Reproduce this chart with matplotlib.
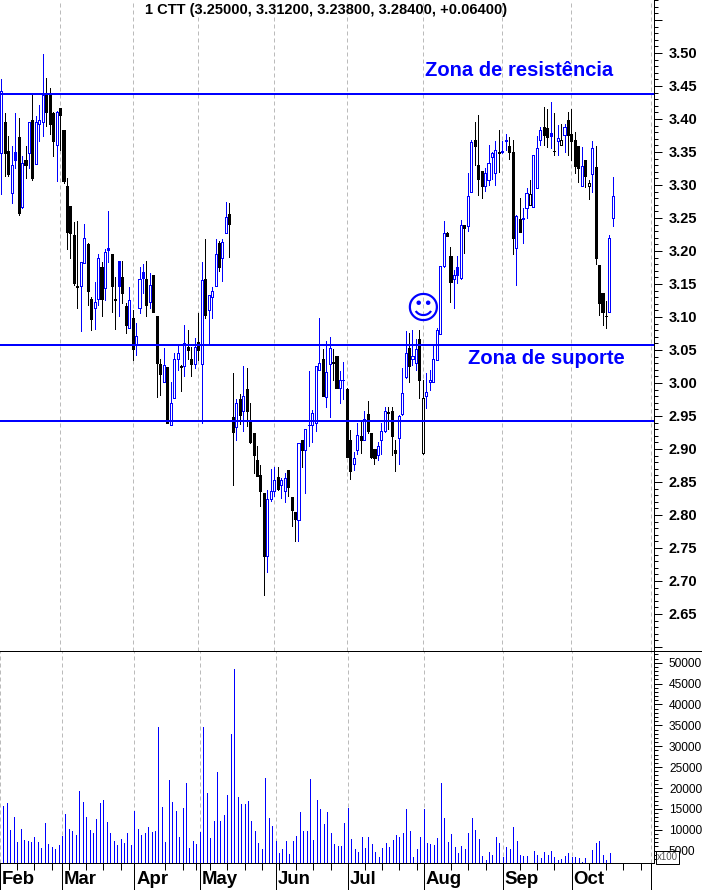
import numpy as np
import matplotlib
matplotlib.use('Agg')
import matplotlib.pyplot as plt
from matplotlib.lines import Line2D

plt.rcParams['font.family'] = ['Liberation Sans', 'DejaVu Sans']

# daily candles
open_ = [3.349,3.395,3.352,3.288,3.350,3.373,3.266,3.338,3.349,3.398,
         3.332,3.393,3.396,3.436,3.436,3.409,3.360,3.416,3.383,3.298,
         3.268,3.224,3.147,3.147,3.182,3.211,3.128,3.113,3.128,3.175,
         3.144,3.204,3.195,3.125,3.185,3.160,3.117,3.084,3.098,3.057,
         3.114,3.168,3.158,3.122,3.164,3.102,3.029,3.002,3.024,2.936,
         2.978,3.036,3.026,3.026,3.055,3.036,3.029,3.062,3.029,3.158,
         3.110,3.131,3.147,3.212,3.189,3.228,3.256,2.948,2.934,2.976,
         2.958,2.991,2.944,2.924,2.883,2.861,2.833,2.738,2.824,2.837,
         2.857,2.845,2.836,2.868,2.827,2.804,2.792,2.914,2.898,2.936,
         2.936,2.939,3.019,3.037,2.979,3.029,3.032,3.041,2.993,3.004,
         2.991,2.913,2.878,2.898,2.920,2.914,2.953,2.924,2.900,2.891,
         2.913,2.928,2.956,2.958,2.899,2.916,2.953,3.009,3.053,3.037,
         3.031,3.066,2.894,2.980,3.002,3.001,3.035,3.074,3.178,3.228,
         3.192,3.157,3.175,3.159,3.239,3.238,3.289,3.368,3.330,3.321,
         3.298,3.307,3.343,3.318,3.350,3.350,3.367,3.359,3.350,3.205,
         3.248,3.249,3.265,3.270,3.267,3.296,3.368,3.388,3.386,3.379,
         3.352,3.366,3.361,3.375,3.398,3.377,3.368,3.359,3.299,3.338,
         3.299,3.316,3.327,3.179,3.136,3.102,3.108,3.250]
high = [3.461,3.409,3.374,3.359,3.409,3.401,3.344,3.359,3.396,3.436,
        3.405,3.421,3.498,3.462,3.447,3.410,3.412,3.416,3.383,3.310,
        3.268,3.244,3.245,3.184,3.241,3.212,3.131,3.153,3.196,3.183,
        3.203,3.260,3.195,3.160,3.185,3.185,3.121,3.145,3.110,3.091,
        3.175,3.180,3.185,3.166,3.164,3.102,3.037,3.053,3.024,3.001,
        3.045,3.059,3.028,3.088,3.080,3.055,3.068,3.106,3.184,3.218,
        3.134,3.146,3.218,3.215,3.218,3.274,3.272,3.015,2.976,2.984,
        3.026,3.022,2.969,2.924,2.905,2.876,2.833,2.838,2.870,2.872,
        2.872,2.856,2.864,2.868,2.827,2.804,2.909,2.914,2.931,3.018,
        2.959,3.026,3.098,3.051,3.063,3.069,3.051,3.041,3.018,3.032,
        2.993,2.929,2.896,2.940,2.944,2.957,2.973,2.924,2.900,2.911,
        2.939,2.964,2.964,2.964,2.914,2.952,3.022,3.079,3.075,3.081,
        3.066,3.080,3.004,3.015,3.020,3.058,3.083,3.178,3.245,3.229,
        3.206,3.171,3.192,3.247,3.240,3.318,3.368,3.395,3.406,3.321,
        3.325,3.361,3.350,3.366,3.384,3.366,3.377,3.373,3.368,3.255,
        3.280,3.265,3.295,3.308,3.345,3.374,3.388,3.418,3.415,3.426,
        3.409,3.391,3.393,3.393,3.411,3.415,3.381,3.359,3.358,3.338,
        3.307,3.367,3.359,3.179,3.136,3.124,3.224,3.312]
low = [3.287,3.313,3.313,3.272,3.325,3.255,3.265,3.311,3.325,3.308,
       3.332,3.367,3.374,3.389,3.377,3.344,3.306,3.353,3.303,3.203,
       3.189,3.149,3.114,3.079,3.182,3.118,3.080,3.082,3.118,3.102,
       3.126,3.184,3.108,3.082,3.102,3.121,3.076,3.083,3.035,3.042,
       3.106,3.137,3.102,3.114,3.108,2.979,2.982,3.002,2.939,2.936,
       2.978,3.019,2.988,3.010,3.037,3.010,3.023,3.035,2.939,3.099,
       3.061,3.099,3.147,3.170,3.154,3.227,3.191,2.845,2.913,2.938,
       2.928,2.935,2.909,2.863,2.859,2.814,2.678,2.713,2.821,2.829,
       2.838,2.825,2.820,2.828,2.783,2.761,2.760,2.872,2.834,2.904,
       2.910,2.928,3.019,2.980,2.964,2.949,3.005,2.992,2.970,2.975,
       2.888,2.855,2.868,2.893,2.894,2.914,2.924,2.886,2.877,2.883,
       2.893,2.926,2.931,2.891,2.866,2.877,2.952,3.007,3.002,3.027,
       3.020,2.978,2.893,2.962,2.989,3.001,3.035,3.074,3.175,3.222,
       3.123,3.114,3.152,3.158,3.197,3.231,3.289,3.330,3.285,3.280,
       3.291,3.300,3.309,3.300,3.320,3.348,3.353,3.340,3.196,3.148,
       3.229,3.212,3.250,3.270,3.267,3.296,3.361,3.361,3.358,3.356,
       3.345,3.346,3.361,3.350,3.346,3.338,3.318,3.304,3.298,3.297,
       3.279,3.290,3.181,3.103,3.088,3.083,3.108,3.238]
close = [3.443,3.349,3.317,3.330,3.338,3.257,3.333,3.330,3.396,3.311,
         3.396,3.399,3.437,3.411,3.393,3.366,3.410,3.406,3.306,3.229,
         3.228,3.152,3.146,3.184,3.219,3.139,3.097,3.122,3.189,3.128,
         3.198,3.201,3.147,3.128,3.147,3.136,3.088,3.125,3.052,3.071,
         3.158,3.159,3.118,3.148,3.108,3.030,3.014,3.028,2.939,2.970,
         3.037,3.045,3.024,3.060,3.050,3.029,3.055,3.050,3.156,3.103,
         3.134,3.140,3.196,3.176,3.213,3.251,3.241,2.926,2.969,2.951,
         2.981,2.957,2.911,2.891,2.859,2.836,2.738,2.824,2.837,2.853,
         2.839,2.853,2.856,2.842,2.808,2.794,2.909,2.899,2.931,2.937,
         2.954,3.026,3.031,2.981,3.016,3.053,3.031,2.993,3.004,3.005,
         2.888,2.866,2.887,2.921,2.914,2.945,2.928,2.888,2.887,2.905,
         2.927,2.957,2.954,2.920,2.894,2.950,2.985,3.046,3.025,3.041,
         3.051,3.004,2.978,2.986,3.005,3.036,3.080,3.178,3.227,3.223,
         3.153,3.163,3.164,3.239,3.235,3.283,3.365,3.359,3.309,3.298,
         3.318,3.334,3.348,3.353,3.349,3.351,3.368,3.350,3.220,3.253,
         3.229,3.250,3.288,3.286,3.345,3.356,3.384,3.375,3.372,3.374,
         3.351,3.371,3.368,3.388,3.375,3.366,3.329,3.325,3.329,3.313,
         3.303,3.356,3.190,3.121,3.108,3.101,3.219,3.284]

# volume in hundreds, the sessions with no visible bar are 0
volume = [15740,16380,10010,13110,7140,10250,7620,7380,7140,8340,
          7140,5710,11680,6670,5950,5470,6430,8580,13830,10250,
          9770,8820,19320,16700,13110,10010,9290,12640,16460,17170,
          11920,9290,7380,6430,7860,6910,9290,6430,14550,10250,
          8820,9290,10730,9530,9770,34610,15500,7140,21950,16700,
          14550,8340,15260,21230,5710,7380,6670,9530,34610,18850,
          8100,12160,23860,12160,13590,18370,32930,48460,17890,16220,
          16220,16940,12160,9770,6910,5470,22430,12880,10970,7380,
          4520,5470,7380,4280,7380,8580,14310,9770,9770,22190,
          7620,17170,15020,11440,14310,9290,6670,6190,6190,11680,
          15260,7860,5470,4760,8340,5710,8340,6670,4760,3560,
          5710,6910,5950,7620,8820,8340,9290,15020,9770,3560,
          5470,8340,15020,6910,6670,6430,8100,21230,12880,7140,
          9050,5950,4520,6190,5470,9290,12880,10010,7860,3800,
          2850,4760,4040,8340,6910,3560,5950,5470,10730,7380,
          4040,3800,3800,0,4990,4040,3320,4760,4040,4990,
          3560,2850,3080,3800,4520,3560,3560,3320,2370,3320,
          0,5230,6910,7380,4040,2850,4520,0]

# session index of the first bar of each month, last one has no label
month_idx = [-1, 17, 38, 57, 79, 100, 122, 145, 165, 188]
month_labels = ['Feb', 'Mar', 'Apr', 'May', 'Jun', 'Jul', 'Aug', 'Sep', 'Oct']
week_idx = [4, 9, 14, 19, 24, 29, 34, 47, 52, 56, 60, 65, 70, 75, 80, 85, 90, 95,
            105, 110, 115, 120, 130, 135, 140, 150, 155, 160, 170, 175, 180, 185]

support_resistance = [3.4386, 3.0568, 2.9417]
price_ticks = [2.60, 2.65, 2.70, 2.75, 2.80, 2.85, 2.90, 2.95, 3.00, 3.05, 3.10,
               3.15, 3.20, 3.25, 3.30, 3.35, 3.40, 3.45, 3.50, 3.55]
price_labels = ['', '2.65', '2.70', '2.75', '2.80', '2.85', '2.90', '2.95', '3.00',
                '3.05', '3.10', '3.15', '3.20', '3.25', '3.30', '3.35', '3.40',
                '3.45', '3.50', '']
volume_ticks = [5000, 10000, 15000, 20000, 25000, 30000, 35000, 40000, 45000, 50000]

BLUE = '#0000ff'
W, H = 702.0, 890.0
PX = 72.0 / 100.0  # one pixel in points

open_ = np.array(open_)
high = np.array(high)
low = np.array(low)
close = np.array(close)
volume = np.array(volume)
x = np.arange(len(close))

# blue when close is above the previous close, hollow when close is above open
prev = np.r_[-np.inf, close[:-1]]
colors = np.where(close >= prev, BLUE, 'black')
hollow = close >= open_

fig = plt.figure(figsize=(7.02, 8.90), dpi=100, facecolor='white')
ax = fig.add_axes([0, 1 - 651 / H, 654 / W, 651 / H])
ax2 = fig.add_axes([0, 1 - 863 / H, 654 / W, 212 / H])

xlim = (-0.385, 188.9)
for a in (ax, ax2):
    a.set_xlim(xlim)
    a.vlines(month_idx, 0, 1, transform=a.get_xaxis_transform(), color='#bbbbbb',
             lw=PX, linestyles=(0, (4, 3)), zorder=1)
    a.spines['left'].set_visible(False)
    a.spines['top'].set_visible(False)
    a.spines['right'].set_linewidth(PX)
    a.spines['bottom'].set_linewidth(PX)
    a.yaxis.tick_right()

# candles
ax.vlines(x, low, high, colors=colors, lw=PX, antialiased=False, zorder=3)
ax.bar(x, np.abs(close - open_), bottom=np.minimum(open_, close), width=0.6,
       facecolor=[('white' if h else c) for h, c in zip(hollow, colors)],
       edgecolor=colors, linewidth=PX, antialiased=False, zorder=4)

for level in support_resistance:
    ax.axhline(level, color=BLUE, lw=2 * PX, zorder=5)

ax.set_ylim(2.5939, 3.5803)
ax.set_yticks(price_ticks)
ax.set_yticklabels(price_labels, fontsize=10.5, fontweight='bold')
ax.set_yticks(np.arange(2.60, 3.585, 0.01), minor=True)
ax.tick_params(axis='y', which='major', length=8 * PX, width=PX, pad=5)
ax.tick_params(axis='y', which='minor', length=4 * PX, width=PX)
ax.set_xticks([])
ax.spines['bottom'].set_visible(False)

ax.text(425 / 654, 1 - 70 / 651, 'Zona de resistência', transform=ax.transAxes,
        color=BLUE, fontsize=14.5, fontweight='bold', ha='left', va='center', zorder=6)
ax.text(468 / 654, 1 - 358 / 651, 'Zona de suporte', transform=ax.transAxes,
        color=BLUE, fontsize=14.5, fontweight='bold', ha='left', va='center', zorder=6)
ax.text(122, 3.111, '☺', color=BLUE, fontsize=24, family='DejaVu Sans',
        ha='center', va='center', zorder=6)

fig.text(326 / W, 1 - 10 / H, '1 CTT (3.25000, 3.31200, 3.23800, 3.28400, +0.06400)',
         fontsize=10.5, fontweight='bold', ha='center', va='center')

# volume
ax2.vlines(x, 0, volume, colors=BLUE, lw=PX, antialiased=False, zorder=3)
ax2.set_ylim(2050, 52800)
ax2.set_yticks(volume_ticks)
ax2.set_yticklabels([str(v) for v in volume_ticks], fontsize=8.6)
ax2.set_yticks(np.arange(3000, 52001, 1000), minor=True)
ax2.tick_params(axis='y', which='major', length=8 * PX, width=PX, pad=5)
ax2.tick_params(axis='y', which='minor', length=4 * PX, width=PX)

ax2.set_xticks(month_idx)
ax2.set_xticklabels([])
ax2.set_xticks(week_idx, minor=True)
ax2.tick_params(axis='x', which='major', length=27 * PX, width=PX)
ax2.tick_params(axis='x', which='minor', length=7 * PX, width=PX)

for idx, label in zip(month_idx, month_labels):
    ax2.annotate(label, (idx, 0), xycoords=ax2.get_xaxis_transform(),
                 xytext=(2 * PX, -17 * PX), textcoords='offset points',
                 fontsize=13.4, fontweight='bold', ha='left', va='center',
                 annotation_clip=False)

fig.add_artist(Line2D([0, 1], [1 - 651 / H, 1 - 651 / H], color='black', lw=PX))
fig.text(667.5 / W, 1 - 857.5 / H, 'x100', fontsize=7, color='#555555',
         ha='center', va='center',
         bbox=dict(facecolor='white', edgecolor='black', lw=PX, boxstyle='square,pad=0.12'))

fig.savefig('out.png', dpi=100)
